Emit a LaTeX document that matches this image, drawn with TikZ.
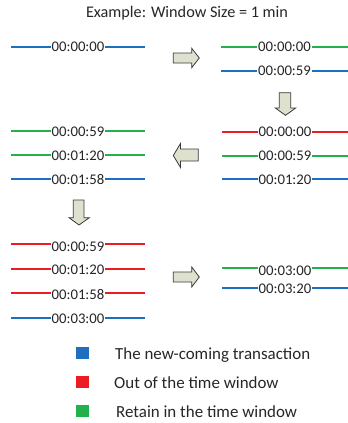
\documentclass[tikz,border=0pt]{standalone}
\usepackage{fontspec}
\setmainfont{Carlito}
\definecolor{lblue}{HTML}{1F6FBF}
\definecolor{lred}{HTML}{EC1C24}
\definecolor{lgreen}{HTML}{22B14C}
\definecolor{arrfill}{HTML}{DDE1CD}
\definecolor{arrline}{HTML}{3A3A3A}
\definecolor{txt}{HTML}{262626}
\tikzset{
  tstamp/.style={font=\fontsize{14.8}{16}\selectfont, text=txt, fill=white, inner xsep=0.8pt, inner ysep=0pt, anchor=center},
  tl/.style={line width=2bp},
  blockarrow/.style={draw=arrline, fill=arrfill, line width=0.8pt, line join=miter},
  legtxt/.style={font=\fontsize{17}{19}\selectfont, text=txt, anchor=base west, inner sep=0pt},
  legbox/.style={minimum width=13bp, minimum height=12bp, inner sep=0pt}
}
% \tsrow{xleft}{xright}{yline}{ytext}{color}{text}{name}
\newcommand{\tsrow}[7]{%
  \draw[tl,draw=#5] (#1,#3) -- (#2,#3);
  \node[tstamp] (#7) at ({(#1+#2)/2},#4) {#6};
}
\begin{document}
\begin{tikzpicture}[x=1bp,y=-1bp]
\useasboundingbox (0,0) rectangle (348,423);
\node[font=\fontsize{16.3}{18}\selectfont, text=txt, anchor=base, inner sep=0pt] (title) at (187,17.3) {Example: Window Size = 1 min};

% panel 1
\tsrow{11}{145}{47}{47}{lblue}{00:00:00}{a1}
% panel 2
\tsrow{221}{348}{47}{47}{lgreen}{00:00:00}{b1}
\tsrow{221}{348}{71}{71}{lblue}{00:00:59}{b2}
% panel 3
\tsrow{222}{348}{132}{132}{lred}{00:00:00}{c1}
\tsrow{222}{348}{156}{156}{lgreen}{00:00:59}{c2}
\tsrow{222}{348}{179}{179.5}{lblue}{00:01:20}{c3}
% panel 4
\tsrow{11}{145}{131}{131.5}{lgreen}{00:00:59}{d1}
\tsrow{11}{145}{155}{155.5}{lgreen}{00:01:20}{d2}
\tsrow{11}{145}{179}{179.5}{lblue}{00:01:58}{d3}
% panel 5
\tsrow{11}{145}{244}{246.5}{lred}{00:00:59}{e1}
\tsrow{11}{145}{269}{269.5}{lred}{00:01:20}{e2}
\tsrow{11}{145}{293}{294.5}{lred}{00:01:58}{e3}
\tsrow{11}{145}{318}{319}{lblue}{00:03:00}{e4}
% panel 6
\tsrow{222}{348}{268}{271}{lgreen}{00:03:00}{f1}
\tsrow{222}{348}{288}{288.5}{lblue}{00:03:20}{f2}

% block arrows
\draw[blockarrow] (173.3,53) -- (191.7,53) -- (191.7,48.3) -- (199.3,58) -- (191.7,67.7) -- (191.7,63) -- (173.3,63) -- cycle;
\draw[blockarrow] (279.3,92.7) -- (290.7,92.7) -- (290.7,108) -- (295.7,108) -- (285.5,115.3) -- (275.3,108) -- (279.3,108) -- cycle;
\draw[blockarrow] (198.3,149) -- (180.5,149) -- (180.5,143.5) -- (173.3,155.5) -- (180.5,167.5) -- (180.5,161) -- (198.3,161) -- cycle;
\draw[blockarrow] (73.3,200) -- (84,200) -- (84,217.7) -- (89.3,217.7) -- (79,225) -- (69,217.7) -- (73.3,217.7) -- cycle;
\draw[blockarrow] (173.3,272) -- (191.7,272) -- (191.7,267) -- (199.3,277) -- (191.7,287) -- (191.7,282) -- (173.3,282) -- cycle;

% legend
\node[legbox, fill=lblue] (k1) at (82.5,353) {};
\node[legbox, fill=lred] (k2) at (82.5,382) {};
\node[legbox, fill=lgreen] (k3) at (82.5,411) {};
\node[legtxt] (l1) at (115,359.5) {The new-coming transaction};
\node[legtxt] (l2) at (114,388.5) {Out of the time window};
\node[legtxt] (l3) at (116,417) {Retain in the time window};
\end{tikzpicture}
\end{document}
